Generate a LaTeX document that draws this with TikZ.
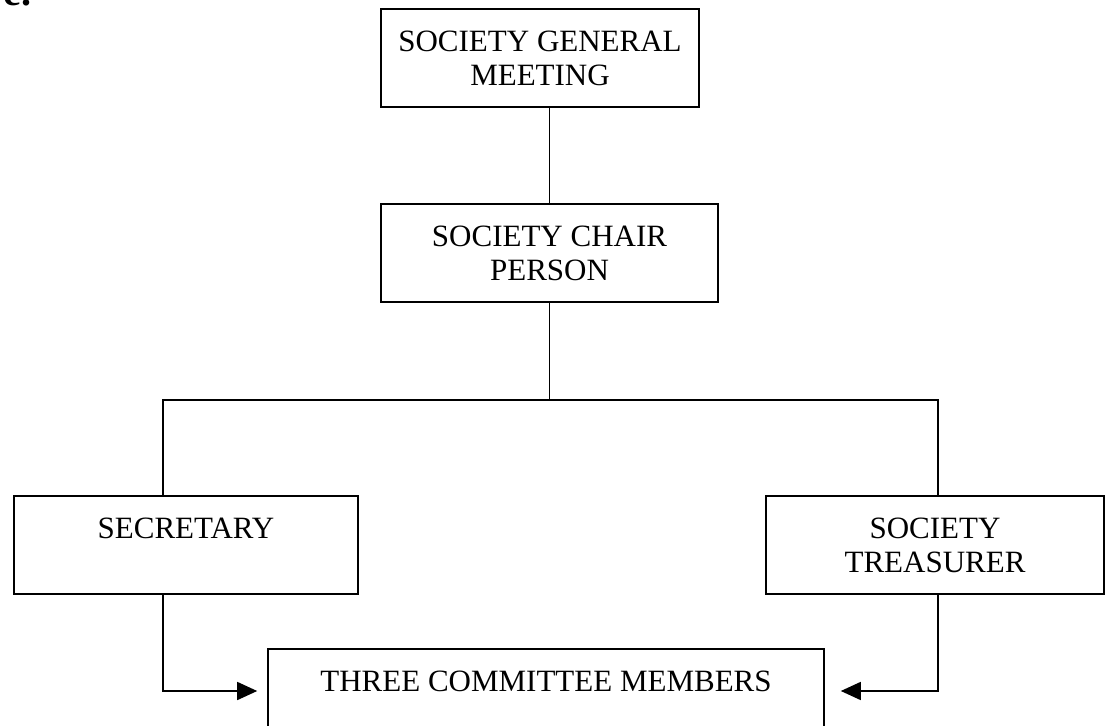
\documentclass[tikz,border=0pt]{standalone}
\usepackage{fontspec}
\setmainfont{Liberation Serif}
\usetikzlibrary{arrows.meta}
\newcommand{\OrgFont}{\fontsize{15.5}{17}\selectfont}

\begin{document}
\begin{tikzpicture}[x=0.5pt,y=-0.5pt,
  box/.style={draw,line width=0.8pt,inner sep=0pt,align=center,
    font=\OrgFont,minimum height=49pt},
  link/.style={line width=0.8pt},
  arr/.style={line width=0.8pt,-{Triangle[length=10pt,width=9pt]},shorten >=5pt}]
\clip (0,0) rectangle (1106,726);
\useasboundingbox (0,0) rectangle (1106,726);

\node[anchor=base west,inner sep=0pt,font=\bfseries\fontsize{20}{20}\selectfont] (head) at (3,6) {e.};

\node[box,minimum width=159pt] (meeting) at (540,58) {SOCIETY GENERAL\\MEETING};
\node[box,minimum width=168.5pt] (chair) at (549.5,253) {SOCIETY CHAIR\\PERSON};
\node[box,minimum width=172pt] (sec) at (186,545) {SECRETARY\\~};
\node[box,minimum width=169pt] (treas) at (935,545) {SOCIETY\\TREASURER};
\node[box,minimum width=278pt] (com) at (546,698) {THREE COMMITTEE MEMBERS\\~};

\coordinate (lft) at (163,400);
\coordinate (rgt) at (938,400);

\draw[link] (meeting.south -| chair.north) -- (chair.north);
\draw[link] (chair.south) -- (chair.south |- lft);
\draw[link] (sec.north -| lft) -- (lft) -- (rgt) -- (treas.north -| rgt);
\draw[arr] (sec.south -| lft) |- ([yshift=3.5pt]com.west);
\draw[arr,shorten >=8pt] (treas.south -| rgt) |- ([yshift=3.5pt]com.east);
\end{tikzpicture}
\end{document}
